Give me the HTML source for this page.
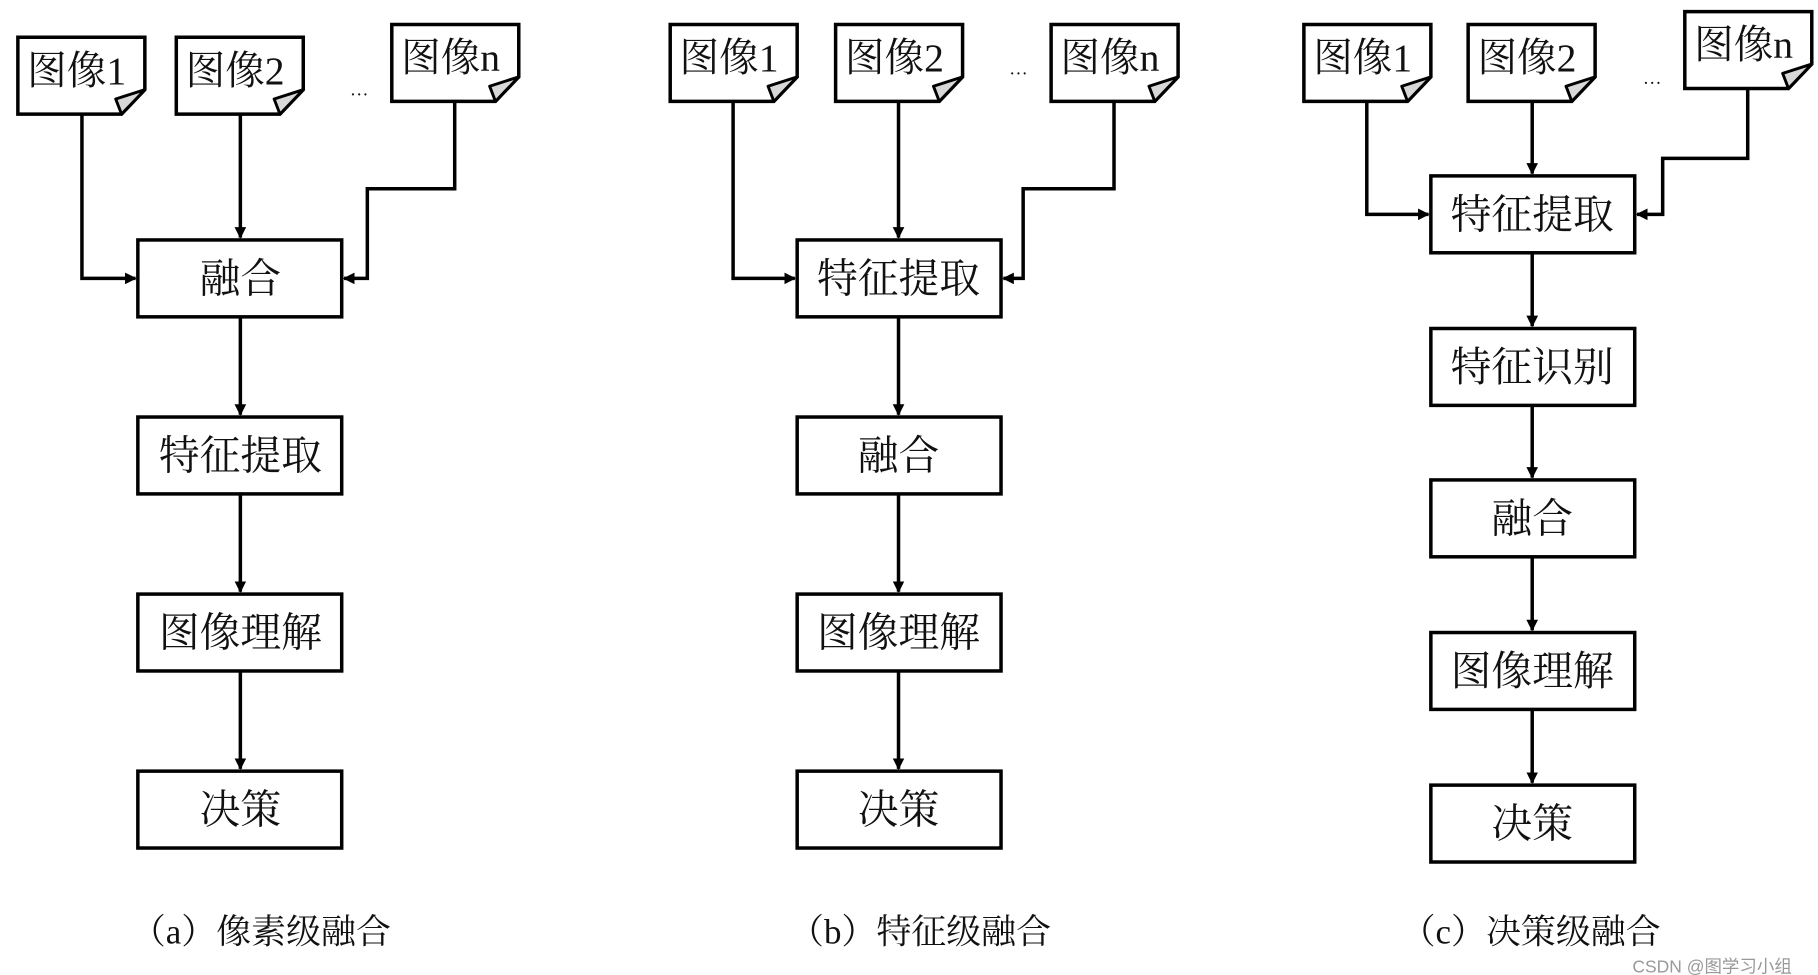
<!DOCTYPE html>
<html><head><meta charset="utf-8"><style>
html,body{margin:0;padding:0;background:#fff;}
svg{display:block;}
text{font-family:"Liberation Serif","Noto Serif CJK SC",serif;fill:#111;}
</style></head><body>
<svg width="1818" height="975" viewBox="0 0 1560 837" xmlns="http://www.w3.org/2000/svg">
<defs>
<marker id="ar" markerWidth="10" markerHeight="10" refX="9" refY="5" orient="auto" markerUnits="userSpaceOnUse">
<path d="M0,0 L10,5 L0,10 Z" fill="#000"/>
</marker>
<g id="doc">
<path d="M0,0 H109 V45 L89,66 H0 Z" fill="#fff" stroke="#000" stroke-width="3"/>
<path d="M109,45 L89,66 L84,53 Z" fill="#d8d8d8" stroke="#000" stroke-width="2.5" stroke-linejoin="round"/>
</g>
</defs>
<g fill="none" stroke="#000" stroke-width="3">
<!-- panel a -->
<polyline points="70,98 70,239 116,239" marker-end="url(#ar)"/>
<polyline points="206,98 206,204" marker-end="url(#ar)"/>
<polyline points="390,87 390,162 315,162 315,239 295,239" marker-end="url(#ar)"/>
<line x1="206" y1="272" x2="206" y2="356" marker-end="url(#ar)"/>
<line x1="206" y1="424" x2="206" y2="508" marker-end="url(#ar)"/>
<line x1="206" y1="576" x2="206" y2="660" marker-end="url(#ar)"/>
<rect x="118" y="206" width="175" height="66"/>
<rect x="118" y="358" width="175" height="66"/>
<rect x="118" y="510" width="175" height="66"/>
<rect x="118" y="662" width="175" height="66"/>
<!-- panel b -->
<polyline points="629,87 629,239 682,239" marker-end="url(#ar)"/>
<polyline points="771,87 771,204" marker-end="url(#ar)"/>
<polyline points="956,87 956,162 878,162 878,239 861,239" marker-end="url(#ar)"/>
<line x1="771" y1="272" x2="771" y2="356" marker-end="url(#ar)"/>
<line x1="771" y1="424" x2="771" y2="508" marker-end="url(#ar)"/>
<line x1="771" y1="576" x2="771" y2="660" marker-end="url(#ar)"/>
<rect x="684" y="206" width="175" height="66"/>
<rect x="684" y="358" width="175" height="66"/>
<rect x="684" y="510" width="175" height="66"/>
<rect x="684" y="662" width="175" height="66"/>
<!-- panel c -->
<polyline points="1173,87 1173,184 1226,184" marker-end="url(#ar)"/>
<polyline points="1315,87 1315,149" marker-end="url(#ar)"/>
<polyline points="1500,76 1500,136 1427,136 1427,184 1405,184" marker-end="url(#ar)"/>
<line x1="1315" y1="217" x2="1315" y2="280" marker-end="url(#ar)"/>
<line x1="1315" y1="348" x2="1315" y2="410" marker-end="url(#ar)"/>
<line x1="1315" y1="478" x2="1315" y2="541" marker-end="url(#ar)"/>
<line x1="1315" y1="609" x2="1315" y2="672" marker-end="url(#ar)"/>
<rect x="1228" y="151" width="175" height="66"/>
<rect x="1228" y="282" width="175" height="66"/>
<rect x="1228" y="412" width="175" height="66"/>
<rect x="1228" y="543" width="175" height="66"/>
<rect x="1228" y="674" width="175" height="66"/>
</g>
<use href="#doc" x="15" y="32"/>
<use href="#doc" x="151" y="32"/>
<use href="#doc" x="336" y="21"/>
<use href="#doc" x="575" y="21"/>
<use href="#doc" x="717" y="21"/>
<use href="#doc" x="902" y="21"/>
<use href="#doc" x="1119" y="21"/>
<use href="#doc" x="1260" y="21"/>
<use href="#doc" x="1446" y="10"/>
<g font-size="34">
<text x="23" y="72">图像1</text>
<text x="159" y="72">图像2</text>
<text x="344" y="61">图像n</text>
<text x="583" y="61">图像1</text>
<text x="725" y="61">图像2</text>
<text x="910" y="61">图像n</text>
<text x="1127" y="61">图像1</text>
<text x="1268" y="61">图像2</text>
<text x="1454" y="50">图像n</text>
</g>
<g font-size="16" fill="#333">
<text x="300" y="82">…</text>
<text x="866" y="64">…</text>
<text x="1410" y="72">…</text>
</g>
<g font-size="35" text-anchor="middle">
<text x="206" y="251">融合</text>
<text x="206" y="403">特征提取</text>
<text x="206" y="555">图像理解</text>
<text x="206" y="707">决策</text>
<text x="771" y="251">特征提取</text>
<text x="771" y="403">融合</text>
<text x="771" y="555">图像理解</text>
<text x="771" y="707">决策</text>
<text x="1315" y="196">特征提取</text>
<text x="1315" y="327">特征识别</text>
<text x="1315" y="457">融合</text>
<text x="1315" y="588">图像理解</text>
<text x="1315" y="719">决策</text>
</g>
<g font-size="30">
<text x="112" y="810">（a）像素级融合</text>
<text x="677" y="810">（b）特征级融合</text>
<text x="1202" y="810">（c）决策级融合</text>
</g>
<text x="1401" y="835" font-size="15" style="font-family:'Liberation Sans','Noto Sans CJK SC',sans-serif;fill:#999">CSDN @图学习小组</text>
</svg>
</body></html>
